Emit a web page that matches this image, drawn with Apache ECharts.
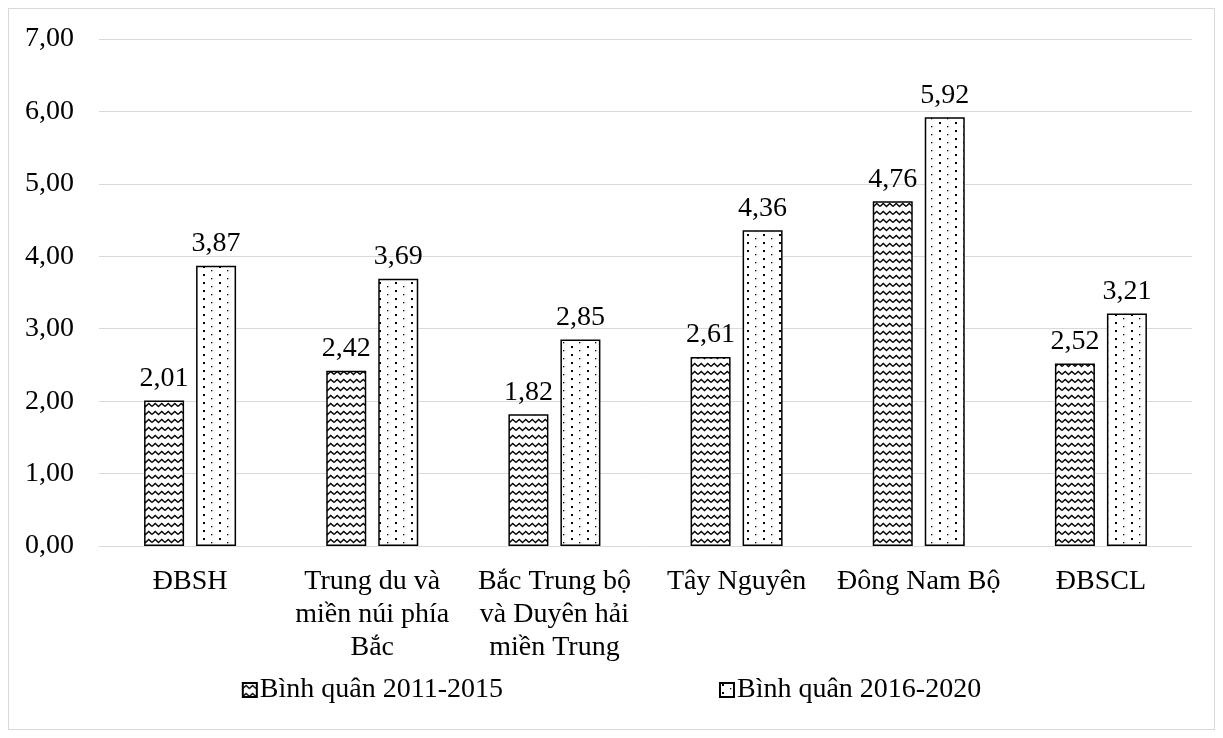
<!DOCTYPE html>
<html>
<head>
<meta charset="utf-8">
<script src="https://cdn.jsdelivr.net/npm/echarts@6/dist/echarts.min.js"></script>
<style>
    body { margin: 0; background: #fff; }
    #chart { position: absolute; left: 8px; top: 8px; width: 1207px; height: 722px; border: 1px solid #d9d9d9; box-sizing: border-box; }
</style>
</head>
<body>
<div id="chart"></div>
<script>
var categories = ['ĐBSH', 'Trung du và\nmiền núi phía\nBắc', 'Bắc Trung bộ\nvà Duyên hải\nmiền Trung', 'Tây Nguyên', 'Đông Nam Bộ', 'ĐBSCL'];
var seriesNames = ['Bình quân 2011-2015', 'Bình quân 2016-2020'];
var values2011 = [2.01, 2.42, 1.82, 2.61, 4.76, 2.52];
var values2016 = [3.87, 3.69, 2.85, 4.36, 5.92, 3.21];

// fill patterns
function wavePattern() {
    var c = document.createElement('canvas');
    c.width = 13; c.height = 8;
    var ctx = c.getContext('2d');
    ctx.fillStyle = '#fff';
    ctx.fillRect(0, 0, 13, 8);
    ctx.strokeStyle = '#000';
    ctx.lineWidth = 1.3;
    ctx.beginPath();
    ctx.moveTo(0, 5.5);
    ctx.lineTo(3.25, 2.5);
    ctx.lineTo(6.5, 5.5);
    ctx.lineTo(9.75, 2.5);
    ctx.lineTo(13, 5.5);
    ctx.stroke();
    return c;
}
function dotPattern() {
    var c = document.createElement('canvas');
    c.width = 16; c.height = 8;
    var ctx = c.getContext('2d');
    ctx.fillStyle = '#fff';
    ctx.fillRect(0, 0, 16, 8);
    ctx.fillStyle = '#000';
    ctx.fillRect(2, 1, 2, 2);
    ctx.fillRect(10, 5, 1.3, 1.3);
    return c;
}

var font = '"Liberation Serif", "Times New Roman", serif';
var fmt = function (v) { return v.toFixed(2).replace('.', ','); };

var chart = echarts.init(document.getElementById('chart'));
var option = {
    animation: false,
    textStyle: { fontFamily: font, color: '#000' },
    grid: { left: 90, right: 22, top: 30, bottom: 183 },
    legend: {
        bottom: 20,
        left: 'center',
        itemGap: 216,
        itemWidth: 14,
        itemHeight: 14,
        icon: 'rect',
        textStyle: { fontFamily: font, fontSize: 28, color: '#000', padding: [0, 0, 0, -2] },
        data: seriesNames
    },
    xAxis: {
        type: 'category',
        data: categories,
        axisTick: { show: false },
        axisLine: { lineStyle: { color: '#d9d9d9', width: 1 } },
        axisLabel: { fontFamily: font, fontSize: 28, color: '#000', margin: 19, lineHeight: 33, interval: 0 }
    },
    yAxis: {
        type: 'value',
        min: 0,
        max: 7,
        interval: 1,
        axisLine: { show: false },
        axisTick: { show: false },
        splitLine: { lineStyle: { color: '#d9d9d9', width: 1 } },
        axisLabel: { fontFamily: font, fontSize: 28, color: '#000', margin: 25, formatter: fmt }
    },
    series: [
        {
            name: seriesNames[0],
            type: 'bar',
            data: values2011,
            barWidth: 40,
            barGap: '30%',
            itemStyle: { color: { image: wavePattern(), repeat: 'repeat' }, borderColor: '#000', borderWidth: 1.5 },
            label: { show: true, position: 'top', distance: 8, fontFamily: font, fontSize: 28, color: '#000', formatter: function (p) { return fmt(p.value); } }
        },
        {
            name: seriesNames[1],
            type: 'bar',
            data: values2016,
            barWidth: 40,
            itemStyle: { color: { image: dotPattern(), repeat: 'repeat' }, borderColor: '#000', borderWidth: 1.5 },
            label: { show: true, position: 'top', distance: 8, fontFamily: font, fontSize: 28, color: '#000', formatter: function (p) { return fmt(p.value); } }
        }
    ]
};
chart.setOption(option);

window.addEventListener('resize', function () {
    chart.resize();
});
</script>
</body>
</html>
